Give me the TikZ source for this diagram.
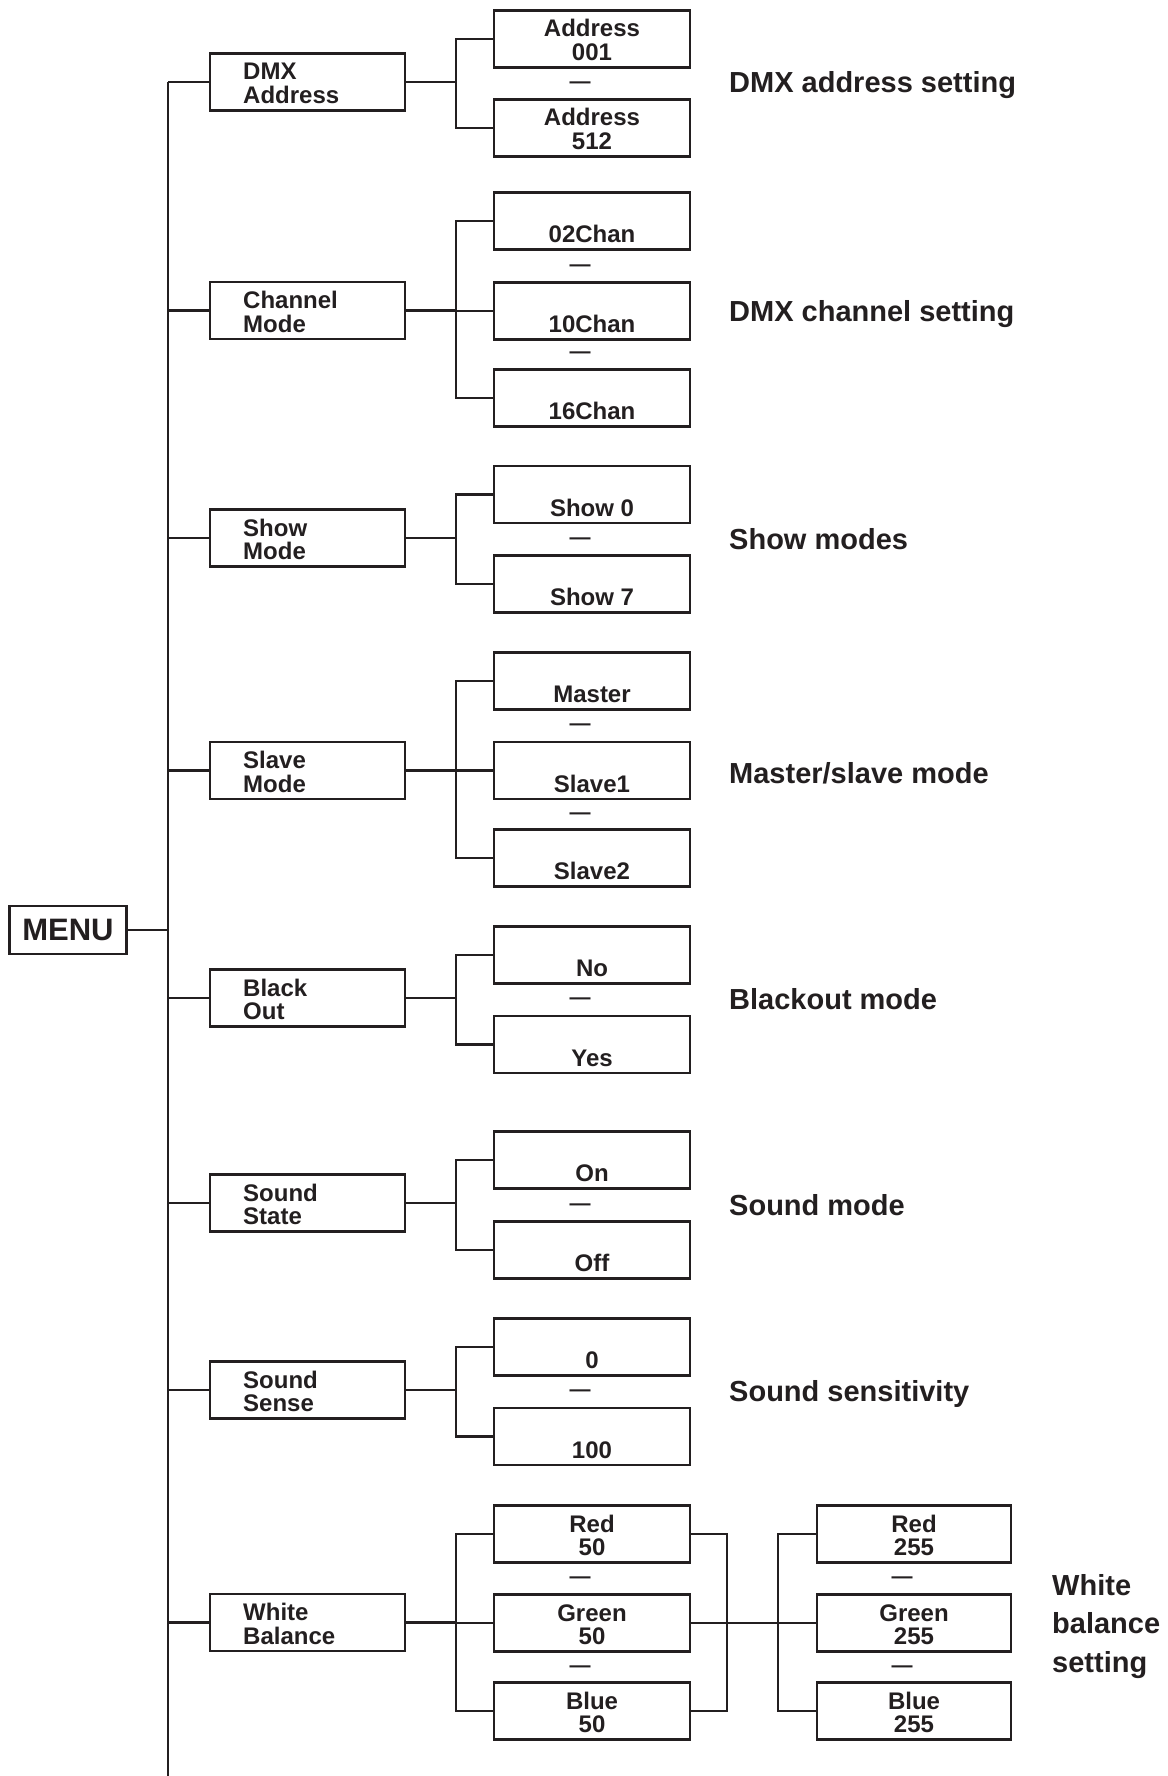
\documentclass[tikz,border=0pt]{standalone}
\usepackage{fontspec}
\setmainfont{Liberation Sans}
\usetikzlibrary{calc}
\definecolor{ink}{HTML}{231F20}
\tikzset{
  ln/.style={line width=2.2pt, draw=ink},
  boxbase/.style={draw=ink, line width=2.4pt, minimum height=57pt, inner sep=0pt},
  lonebox/.style={boxbase, minimum width=195pt},
  ltwobox/.style={boxbase, minimum width=196pt},
  lthreebox/.style={boxbase, minimum width=194pt},
  btxt/.style={text=ink, font=\fontsize{24}{24}\selectfont\bfseries, inner sep=0pt},
  lbl/.style={text=ink, font=\fontsize{29}{29}\selectfont\bfseries, inner sep=0pt, anchor=base west},
  dsh/.style={text=ink, font=\fontsize{21}{21}\selectfont\bfseries, inner sep=0pt, yshift=-2pt},
}
\newcommand\lvone[4]{% name, y, line1, line2
  \node[lonebox] (#1) at (307.5,#2) {};
  \node[btxt, anchor=base west] (#1-a) at ([xshift=-64.5pt,yshift=2pt]#1.center) {#3};
  \node[btxt, anchor=base west] (#1-b) at ([xshift=-64.5pt,yshift=-21.5pt]#1.center) {#4};
}
\newcommand\lvtwo[5]{% name, x, y, line1, line2
  \node[ltwobox] (#1) at (#2,#3) {};
  \node[btxt, anchor=base] (#1-a) at ([yshift=2pt]#1.center) {#4};
  \node[btxt, anchor=base] (#1-b) at ([yshift=-21.5pt]#1.center) {#5};
}
\newcommand\lvtwos[4]{% name, x, y, line
  \node[ltwobox] (#1) at (#2,#3) {};
  \node[btxt, anchor=base] (#1-b) at ([yshift=-21.5pt]#1.center) {#4};
}
\newcommand\lvthree[5]{% name, x, y, line1, line2
  \node[lthreebox] (#1) at (#2,#3) {};
  \node[btxt, anchor=base] (#1-a) at ([yshift=2pt]#1.center) {#4};
  \node[btxt, anchor=base] (#1-b) at ([yshift=-21.5pt]#1.center) {#5};
}
\begin{document}
\begin{tikzpicture}[x=1pt,y=-1pt]
\useasboundingbox (0,0) rectangle (1167,1776);

% junction x positions
\coordinate (spx) at (168,0);
\coordinate (bx) at (456,0);
\coordinate (rj) at (727,0);
\coordinate (lx) at (778,0);

% MENU
\node[draw=ink, line width=2.4pt, minimum width=117pt, minimum height=48pt, inner sep=0pt,
      text=ink, font=\fontsize{31}{31}\selectfont\bfseries] (menu) at (68,930) {MENU};

% level 1
\lvone{dmx}{82}{DMX}{Address}
\lvone{chm}{310.5}{Channel}{Mode}
\lvone{shm}{538}{Show}{Mode}
\lvone{slm}{770.5}{Slave}{Mode}
\lvone{blo}{998}{Black}{Out}
\lvone{sst}{1203}{Sound}{State}
\lvone{sse}{1390}{Sound}{Sense}
\lvone{wb}{1622.5}{White}{Balance}

\coordinate (sptop) at (dmx.west -| spx);
\coordinate (spbot) at (168,1776);
\draw[ln] (sptop) -- (spbot);
\draw[ln] (menu.east) -- (menu.east -| spx);
\foreach \n in {dmx,chm,shm,slm,blo,sst,sse,wb}{
  \draw[ln] (\n.west) -- (\n.west -| spx);
  \draw[ln] (\n.east) -- (\n.east -| bx);
}

% level 2
\lvtwo{a1}{592}{39}{Address}{001}
\lvtwo{a2}{592}{128}{Address}{512}
\node[dsh] (da1) at (580,83) {—};

\lvtwos{c1}{592}{221}{02Chan}
\lvtwos{c2}{592}{311}{10Chan}
\lvtwos{c3}{592}{398}{16Chan}
\node[dsh] (dc1) at (580,266) {—};
\node[dsh] (dc2) at (580,353) {—};

\lvtwos{s1}{592}{494.5}{Show 0}
\lvtwos{s2}{592}{584}{Show 7}
\node[dsh] (ds1) at (580,539) {—};

\lvtwos{m1}{592}{681}{Master}
\lvtwos{m2}{592}{770.5}{Slave1}
\lvtwos{m3}{592}{858}{Slave2}
\node[dsh] (dm1) at (580,725.5) {—};
\node[dsh] (dm2) at (580,814) {—};

\lvtwos{b1}{592}{955}{No}
\lvtwos{b2}{592}{1044.5}{Yes}
\node[dsh] (db1) at (580,999.5) {—};

\lvtwos{o1}{592}{1160}{On}
\lvtwos{o2}{592}{1250}{Off}
\node[dsh] (do1) at (580,1205) {—};

\lvtwos{n1}{592}{1347}{0}
\lvtwos{n2}{592}{1436.5}{100}
\node[dsh] (dn1) at (580,1391.5) {—};

\lvtwo{r1}{592}{1534}{Red}{50}
\lvtwo{g1}{592}{1623}{Green}{50}
\lvtwo{u1}{592}{1711}{Blue}{50}
\node[dsh] (dr1) at (580,1578) {—};
\node[dsh] (dg1) at (580,1667) {—};

% level 3
\lvthree{r2}{914}{1534}{Red}{255}
\lvthree{g2}{914}{1623}{Green}{255}
\lvthree{u2}{914}{1711}{Blue}{255}
\node[dsh] (dr2) at (902,1578) {—};
\node[dsh] (dg2) at (902,1667) {—};

% brackets level 2
\foreach \f/\l in {a1/a2,c1/c3,s1/s2,m1/m3,b1/b2,o1/o2,n1/n2,r1/u1}{
  \draw[ln] (\f.west) -- (\f.west -| bx) -- (\l.west -| bx) -- (\l.west);
}
\foreach \m in {c2,m2,g1}{
  \draw[ln] (\m.west) -- (\m.west -| bx);
}

% white balance right side
\draw[ln] (r1.east) -- (r1.east -| rj) -- (u1.east -| rj) -- (u1.east);
\draw[ln] (g1.east) -- (g2.west);
\draw[ln] (r2.west) -- (r2.west -| lx) -- (u2.west -| lx) -- (u2.west);

% labels
\node[lbl] (t1) at (729,92.5) {DMX address setting};
\node[lbl] (t2) at (729,322) {DMX channel setting};
\node[lbl] (t3) at (729,549) {Show modes};
\node[lbl] (t4) at (729,783) {Master/slave mode};
\node[lbl] (t5) at (729,1009) {Blackout mode};
\node[lbl] (t6) at (729,1215) {Sound mode};
\node[lbl] (t7) at (729,1401) {Sound sensitivity};
\node[lbl] (t8) at (1052,1595) {White};
\node[lbl] (t9) at (1052,1633.5) {balance};
\node[lbl] (t10) at (1052,1672) {setting};
\end{tikzpicture}
\end{document}
